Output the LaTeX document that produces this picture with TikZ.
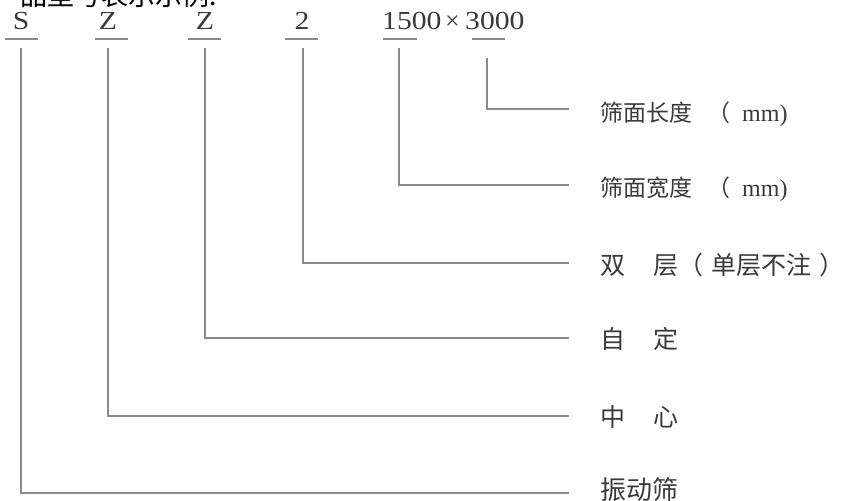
\documentclass[tikz,border=0pt]{standalone}
\usepackage{graphicx}
\usepackage{fontspec}
\setmainfont{Liberation Serif}
\newfontfamily\cjk{Noto Sans CJK SC}
\newfontfamily\lat{Liberation Serif}
\definecolor{linegray}{HTML}{8A8A8A}
\definecolor{txtgray}{HTML}{3A3A3A}
\newcommand{\widetxt}[1]{\scalebox{1.14}[1]{#1}}
\tikzset{
  conn/.style={draw=linegray, line width=1.5pt},
  uline/.style={draw=linegray, line width=1.6pt},
  codetxt/.style={anchor=base, inner sep=0, text=txtgray, font=\fontsize{26}{26}\selectfont},
  lbl/.style={anchor=west, inner sep=0, text=txtgray, font=\cjk\fontsize{25}{25}\selectfont},
}
\begin{document}
\begin{tikzpicture}[x=1pt,y=-1pt]
\useasboundingbox (0,0) rectangle (847,501);
\clip (0,0) rectangle (847,501);
% heading (cut off at top)
\node[anchor=base west, inner sep=0, font=\cjk\fontsize{27}{27}\selectfont] (head) at (20,5) {品型号表示示例:};
% code letters
\node[codetxt] (cS) at (21,29.5) {\widetxt{S}};
\node[codetxt] (cZa) at (108,29.5) {\widetxt{Z}};
\node[codetxt] (cZb) at (205,29.5) {\widetxt{Z}};
\node[codetxt] (c2) at (302,29.5) {\widetxt{2}};
\node[codetxt, anchor=base west] (cW) at (382,29.5) {\widetxt{1500}};
\node[codetxt] (cx) at (452.5,29.5) {×};
\node[codetxt, anchor=base west] (cL) at (465,29.5) {\widetxt{3000}};
% underlines
\draw[uline] (5,39) -- (38,39);
\draw[uline] (95,39) -- (128,39);
\draw[uline] (188,39) -- (221,39);
\draw[uline] (285,39) -- (318,39);
\draw[uline] (383,39) -- (417,39);
\draw[uline] (472,39) -- (505,39);
% connector starts
\coordinate (tS) at (21,48);
\coordinate (tZa) at (108,48);
\coordinate (tZb) at (205,48);
\coordinate (t2) at (303,48);
\coordinate (tW) at (399,48);
\coordinate (tL) at (487,58);
% connector ends
\coordinate (eL) at (569,109);
\coordinate (eW) at (569,185);
\coordinate (e2) at (569,263);
\coordinate (eZb) at (569,338);
\coordinate (eZa) at (569,416);
\coordinate (eS) at (569,493);
% labels
\node[lbl, font=\cjk\fontsize{23}{23}\selectfont] (lL) at (600,114) {筛面长度\hspace{15pt}（\hspace{12pt}{\lat\fontsize{24}{24}\selectfont mm)}};
\node[lbl, font=\cjk\fontsize{23}{23}\selectfont] (lW) at (600,189) {筛面宽度\hspace{15pt}（\hspace{12pt}{\lat\fontsize{24}{24}\selectfont mm)}};
\node[lbl] (l2) at (600,265) {双\hspace{28pt}层（\hspace{8pt}单层不注\hspace{8pt}）};
\node[lbl] (lZb) at (600,339) {自\hspace{28pt}定};
\node[lbl] (lZa) at (600,417) {中\hspace{28pt}心};
\node[lbl, font=\cjk\fontsize{26}{26}\selectfont] (lS) at (600,490) {振动筛};
% connectors
\draw[conn] (tL) |- (eL);
\draw[conn] (tW) |- (eW);
\draw[conn] (t2) |- (e2);
\draw[conn] (tZb) |- (eZb);
\draw[conn] (tZa) |- (eZa);
\draw[conn] (tS) |- (eS);
\end{tikzpicture}
\end{document}
